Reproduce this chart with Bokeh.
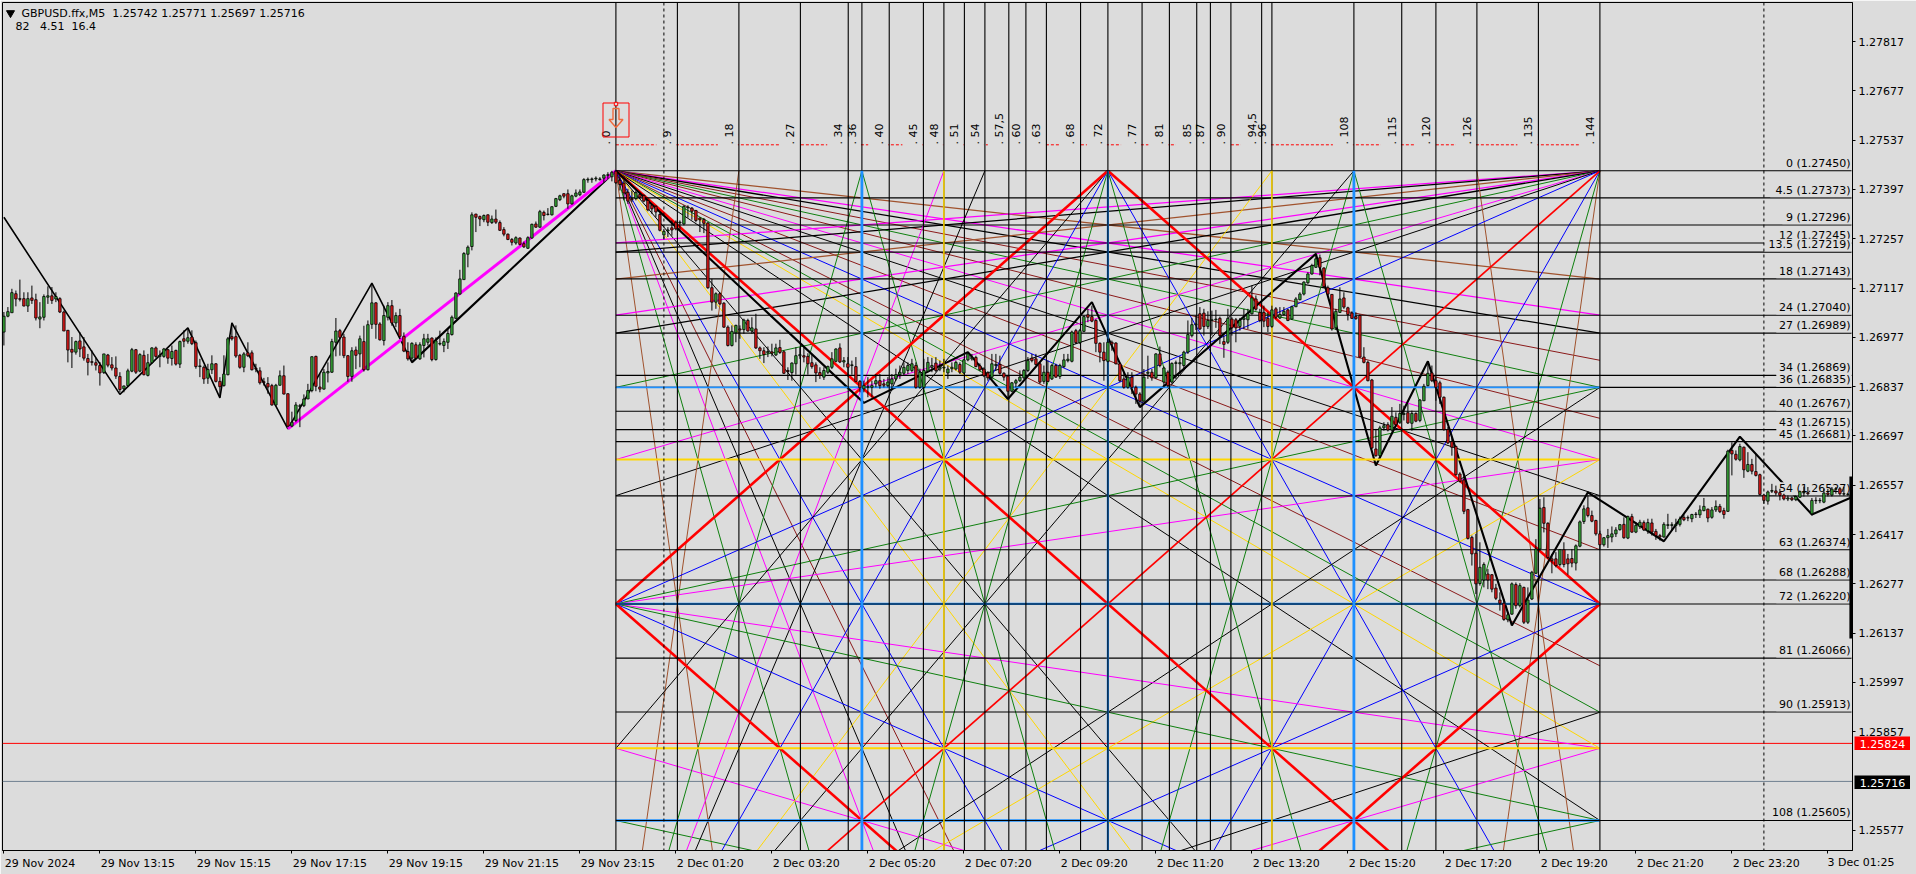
from math import pi
from bokeh.embed import file_html
from bokeh.resources import INLINE
from bokeh.plotting import figure
from bokeh.models import ColumnDataSource, FixedTicker, NumeralTickFormatter, Range1d, Label
from bokeh.core.properties import value

# ---------- DATA ----------
# candles, (open, high, low, close) in points above 1.25000
candles_a = [(1992,2049,1954,2037),(2037,2063,2034,2050),(2047,2115,2047,2104),(2101,2110,2065,2086),(2087,2141,2079,2085),(2087,2105,2065,2066),(2066,2105,2049,2087),(2089,2124,2072,2082),(2084,2101,2025,2032),(2029,2077,2003,2035),
(2034,2099,2025,2093),(2091,2122,2072,2095),(2095,2120,2072,2082),(2086,2105,2077,2093),(2087,2091,2046,2049),(2049,2053,1995,1995),(1997,1998,1906,1941),(1943,1978,1890,1935),(1935,1968,1928,1965),(1967,1992,1921,1944),
(1950,1978,1911,1918),(1917,1930,1869,1906),(1908,1940,1897,1906),(1905,1919,1883,1898),(1897,1907,1840,1876),(1877,1930,1873,1930),(1927,1930,1892,1898),(1899,1921,1883,1890),(1890,1923,1859,1867),(1866,1878,1821,1829),
(1831,1840,1821,1839),(1840,1888,1836,1882),(1881,1947,1878,1942),(1942,1944,1873,1878),(1881,1932,1878,1928),(1926,1940,1869,1871),(1869,1930,1866,1905),(1905,1949,1902,1947),(1947,1951,1919,1923),(1923,1940,1892,1926),
(1923,1947,1919,1944),(1942,1944,1902,1918),(1917,1954,1897,1937),(1940,1942,1897,1901),(1901,1968,1890,1965),(1973,1997,1949,1966),(1966,2001,1959,1976),(1978,1997,1955,1959),(1962,1968,1888,1894),(1894,1916,1864,1896),
(1892,1897,1845,1859),(1861,1902,1845,1886),(1885,1926,1873,1902),(1902,1904,1849,1852),(1852,1864,1807,1837),(1840,1926,1837,1873),(1871,1978,1869,1973),(1979,2018,1968,1973),(1979,2011,1919,1924),(1926,1930,1888,1892),
(1892,1935,1878,1930),(1933,1963,1921,1925),(1933,1940,1883,1885),(1889,1902,1878,1887),(1882,1892,1843,1848),(1851,1862,1840,1849),(1846,1864,1817,1836),(1840,1845,1783,1785),(1785,1845,1783,1841),(1841,1883,1840,1868),
(1868,1897,1815,1816),(1817,1818,1722,1725),(1725,1766,1722,1736),(1741,1793,1736,1785),(1781,1788,1722,1783),(1783,1815,1779,1802),(1802,1845,1802,1826),(1826,1923,1821,1922),(1923,1925,1824,1838),(1836,1873,1821,1830)]
candles_b = [(1830,1887,1829,1878),(1876,1906,1849,1880),(1878,1973,1876,1965),(1963,2032,1923,1995),(1996,2001,1925,1977),(1978,1987,1918,1925),(1925,1927,1851,1866),(1866,1949,1851,1939),(1941,1951,1887,1926),(1930,1982,1892,1973),
(1965,2010,1880,1885),(1885,2025,1883,2013),(2014,2129,2001,2075),(2075,2077,1973,2014),(2015,2020,1968,1970),(1968,2067,1954,2039),(2034,2077,2025,2067),(2067,2083,2010,2018),(2018,2048,2006,2039),(2039,2058,1973,1980),
(1980,1991,1935,1938),(1937,1963,1911,1916),(1918,1963,1904,1960),(1956,1963,1916,1918),(1916,1963,1913,1956),(1954,1987,1920,1973),(1963,1987,1954,1973),(1975,1977,1909,1914),(1914,1977,1911,1967),(1958,1996,1954,1960),
(1954,1974,1935,1965),(1963,2001,1944,1988),(1985,2039,1982,2034),(2031,2105,2029,2103),(2100,2169,2098,2143),(2141,2219,2141,2215),(2213,2238,2176,2233),(2235,2332,2224,2325),(2327,2328,2276,2318),(2320,2323,2293,2313),
(2311,2326,2304,2323),(2325,2326,2293,2304),(2303,2323,2299,2313),(2313,2340,2299,2304),(2303,2309,2279,2281),(2283,2290,2264,2270),(2270,2272,2253,2255),(2255,2259,2238,2247),(2245,2264,2240,2260),(2259,2261,2238,2241),
(2243,2249,2231,2234),(2230,2264,2228,2260),(2259,2300,2257,2298),(2299,2306,2288,2290),(2290,2339,2288,2334),(2332,2337,2309,2323),(2326,2344,2323,2327),(2325,2349,2323,2348),(2349,2373,2347,2371),(2368,2382,2364,2379),
(2385,2386,2372,2378),(2385,2397,2342,2356),(2356,2382,2354,2379),(2378,2397,2375,2387),(2382,2397,2378,2390),(2389,2429,2387,2425),(2424,2431,2416,2426),(2425,2431,2416,2427),(2427,2434,2420,2429),(2425,2432,2422,2427),
(2429,2440,2416,2438),(2437,2446,2427,2439),(2433,2450,2420,2446),(2449,2450,2413,2416)]
candles_c = [(2423,2437,2394,2411),(2415,2423,2366,2387),(2389,2399,2356,2364),(2371,2394,2361,2368),(2371,2394,2366,2388),(2383,2387,2371,2375),(2380,2383,2361,2364),(2366,2368,2335,2339),(2352,2356,2328,2342),(2349,2352,2318,2333),
(2326,2330,2278,2281),(2268,2285,2257,2278),(2279,2290,2262,2282),(2288,2309,2266,2282),(2304,2309,2281,2285),(2302,2309,2281,2304),(2299,2352,2295,2349),(2345,2352,2317,2347),(2344,2347,2311,2335),(2337,2339,2304,2309),
(2316,2318,2276,2311),(2312,2316,2273,2301),(2302,2304,2115,2118),(2118,2143,2053,2077),(2077,2105,2058,2101),(2101,2105,2070,2072),(2074,2077,2004,2006),(2006,2011,1951,1954),(1954,2011,1951,1994),(1990,2013,1963,2011),
(2001,2011,1973,1998),(1999,2030,1987,2026),(2025,2030,1993,1995),(1995,2034,1987,2004),(2001,2044,1944,1947),(1947,1951,1916,1939),(1939,1949,1904,1928),(1933,1951,1921,1937),(1936,1959,1923,1932),(1927,1959,1924,1947),
(1948,1970,1930,1934),(1936,1940,1873,1875),(1883,1892,1856,1880),(1877,1906,1854,1904),(1902,1949,1871,1925),(1925,1949,1916,1928),(1925,1949,1906,1921),(1923,1932,1871,1902),(1905,1930,1888,1894),(1899,1906,1850,1876),
(1877,1892,1859,1869),(1864,1892,1856,1883),(1878,1897,1873,1894),(1892,1935,1887,1916),(1909,1946,1906,1944),(1947,1960,1904,1907),(1907,1921,1892,1911),(1902,1921,1866,1892),(1897,1911,1871,1899),(1894,1921,1850,1852),
(1852,1856,1821,1834),(1831,1854,1821,1840),(1835,1864,1807,1837),(1835,1854,1807,1840),(1845,1873,1835,1854),(1854,1873,1831,1840),(1845,1859,1835,1841),(1840,1864,1835,1850),(1845,1873,1826,1859),(1859,1888,1854,1871),
(1871,1897,1859,1878),(1875,1906,1869,1892),(1883,1906,1873,1897),(1883,1916,1878,1902),(1897,1906,1831,1835),(1835,1888,1831,1878),(1835,1916,1831,1883)]
candles_d = [(1881,1921,1878,1906),(1892,1919,1878,1897),(1904,1921,1878,1883),(1887,1911,1881,1892),(1890,1916,1878,1892),(1876,1897,1859,1887),(1888,1906,1878,1892),(1887,1911,1883,1906),(1900,1906,1873,1878),(1876,1916,1873,1913),
(1913,1935,1909,1930),(1916,1930,1911,1920),(1920,1925,1892,1894),(1896,1903,1881,1885),(1887,1892,1864,1868),(1876,1881,1854,1862),(1864,1930,1859,1902),(1897,1930,1883,1900),(1900,1925,1871,1875),(1875,1878,1854,1864),
(1867,1868,1802,1824),(1824,1850,1821,1848),(1847,1859,1835,1854),(1854,1883,1850,1864),(1862,1887,1859,1883),(1883,1921,1878,1911),(1918,1930,1906,1911),(1916,1930,1897,1900),(1902,1906,1845,1850),(1852,1897,1845,1878),
(1878,1911,1850,1852),(1859,1902,1856,1897),(1897,1902,1862,1864),(1866,1902,1859,1897),(1894,1930,1890,1913),(1911,1930,1906,1915),(1909,1996,1906,1992),(1996,2001,1958,1962),(1962,2001,1958,1996),(1994,2039,1992,2036),
(2041,2058,2020,2034),(2036,2067,2020,2023),(2025,2029,1935,1960),(1960,1963,1906,1935),(1935,1963,1854,1911),(1909,1973,1906,1963),(1963,1968,1939,1958),(1961,1963,1900,1902),(1902,1906,1850,1854),(1859,1878,1831,1835),
(1835,1878,1831,1864),(1864,1878,1816,1835),(1835,1840,1788,1816),(1816,1821,1783,1796),(1796,1887,1793,1864),(1875,1925,1859,1878),(1878,1887,1854,1862),(1862,1932,1859,1930),(1930,1951,1892,1897),(1850,1894,1835,1890),
(1878,1883,1835,1840),(1850,1906,1845,1903),(1903,1911,1859,1905),(1902,1921,1873,1905),(1897,1939,1890,1935),(1935,2025,1930,1985),(1982,2032,1977,2013),(2013,2039,1998,2015),(2044,2063,1998,2001),(2046,2058,1982,2008),
(2008,2051,2001,2025),(2025,2053,1982,2027),(2027,2055,2004,2029),(2031,2036,1958,1982),(1965,1982,1919,1957),(1963,2058,1958,2031),(2029,2034,1982,2004),(2027,2032,1963,2004),(2008,2032,1996,2025)]
candles_e = [(2028,2058,2001,2032),(2027,2058,2001,2044),(2044,2124,2042,2089),(2086,2096,2053,2057),(2048,2058,2020,2025),(2048,2067,2006,2023),(2031,2048,1992,2008),(2008,2067,2004,2055),(2058,2063,2029,2034),(2032,2063,2029,2042),
(2042,2063,2039,2051),(2055,2058,2023,2025),(2029,2067,2027,2064),(2064,2091,2063,2086),(2084,2105,2082,2100),(2100,2136,2096,2134),(2132,2162,2129,2157),(2157,2186,2155,2181),(2176,2212,2174,2200),(2203,2212,2153,2176),
(2174,2176,2118,2121),(2118,2124,2096,2100),(2099,2100,1996,2001),(2004,2058,1998,2051),(2048,2119,2046,2086),(2089,2105,2058,2063),(2061,2064,2025,2042),(2046,2051,2029,2031),(2036,2048,2027,2030),(2039,2042,1919,1921),
(1921,1949,1903,1906),(1906,1911,1852,1854),(1856,1859,1660,1663),(1660,1717,1638,1641),(1641,1726,1636,1720),(1720,1736,1712,1726),(1729,1736,1710,1714),(1714,1779,1710,1753),(1750,1764,1724,1729),(1736,1788,1731,1761),
(1758,1783,1741,1761),(1763,1788,1731,1734),(1733,1769,1712,1761),(1761,1764,1736,1739),(1741,1802,1736,1799),(1797,1845,1796,1838),(1840,1902,1838,1875),(1876,1897,1850,1854),(1854,1864,1797,1835),(1848,1854,1788,1807),
(1807,1809,1712,1715),(1715,1722,1674,1677),(1681,1693,1641,1665),(1667,1670,1584,1587),(1589,1594,1565,1568),(1572,1584,1475,1483),(1488,1490,1403,1406),(1409,1414,1329,1362),(1364,1419,1248,1277),(1278,1395,1272,1324),
(1288,1338,1267,1332),(1305,1319,1262,1288),(1303,1305,1253,1262),(1265,1277,1231,1236),(1231,1253,1201,1222),(1222,1234,1172,1176),(1175,1196,1168,1189),(1191,1281,1189,1277),(1275,1281,1206,1215),(1215,1279,1210,1272),
(1267,1269,1163,1168),(1168,1267,1163,1231),(1234,1314,1231,1310),(1307,1404,1305,1376),(1376,1518,1371,1492),(1494,1523,1423,1449),(1449,1452,1348,1352)]
candles_f = [(1348,1362,1307,1343),(1348,1367,1324,1329),(1332,1376,1326,1374),(1374,1395,1324,1332),(1348,1362,1303,1334),(1349,1376,1324,1336),(1336,1389,1315,1385),(1384,1457,1381,1453),(1454,1500,1447,1490),(1493,1528,1466,1471),
(1471,1485,1452,1455),(1457,1459,1414,1419),(1419,1428,1374,1388),(1388,1410,1383,1408),(1408,1433,1379,1414),(1410,1440,1395,1419),(1419,1438,1410,1430),(1431,1447,1428,1445),(1446,1466,1405,1408),(1407,1471,1404,1468),
(1468,1476,1422,1424),(1424,1452,1421,1443),(1440,1459,1433,1452),(1451,1457,1427,1430),(1428,1462,1419,1451),(1450,1462,1414,1424),(1426,1433,1402,1414),(1414,1419,1400,1410),(1410,1452,1408,1446),(1443,1476,1433,1445),
(1443,1452,1428,1445),(1443,1462,1424,1446),(1446,1468,1440,1461),(1466,1474,1455,1459),(1464,1471,1455,1465),(1462,1476,1452,1474),(1474,1481,1464,1475),(1473,1500,1464,1487),(1485,1521,1483,1497),(1489,1491,1452,1464),
(1466,1495,1462,1487),(1487,1514,1481,1497),(1497,1504,1478,1482),(1485,1493,1462,1474),(1483,1658,1481,1654),(1656,1679,1585,1646),(1645,1656,1627,1631),(1629,1675,1625,1667),(1665,1667,1578,1601),(1597,1651,1594,1616),
(1616,1632,1588,1597),(1596,1646,1582,1585),(1587,1590,1528,1531),(1529,1533,1504,1514),(1512,1542,1502,1538),(1540,1561,1535,1542),(1541,1556,1528,1535),(1536,1547,1514,1528),(1529,1533,1514,1518),(1518,1528,1512,1521),
(1521,1525,1512,1516),(1516,1528,1512,1525),(1523,1542,1521,1539),(1535,1553,1525,1537),(1536,1552,1528,1533),(1476,1521,1471,1514),(1513,1523,1504,1514),(1513,1521,1506,1514),(1509,1547,1506,1535),(1535,1547,1525,1531),
(1529,1552,1525,1546),(1546,1552,1533,1547),(1547,1552,1528,1533),(1532,1552,1527,1533),(1531,1535,1527,1532),(1531,1582,1122,1531)]

zigzag_bars = [0,29,46,54,57,71,92,102,153,215,241,251,272,284,328,343,356,377,396,415,434,452,462]
zigzag_pts = [2318,1815,2004,1805,2018,1717,2131,1906,2450,1791,1935,1802,2077,1779,2214,1613,1909,1159,1537,1398,1695,1474,1523]
trend_bars = [71,153]
trend_pts = [1717,2450]

time_labels = ["29 Nov 2024","29 Nov 13:15","29 Nov 15:15","29 Nov 17:15","29 Nov 19:15","29 Nov 21:15","29 Nov 23:15",
               "2 Dec 01:20","2 Dec 03:20","2 Dec 05:20","2 Dec 07:20","2 Dec 09:20","2 Dec 11:20","2 Dec 13:20",
               "2 Dec 15:20","2 Dec 17:20","2 Dec 19:20","2 Dec 21:20","2 Dec 23:20","3 Dec 01:25"]
price_ticks = [1.27817,1.27677,1.27537,1.27397,1.27257,1.27117,1.26977,1.26837,1.26697,1.26557,1.26417,1.26277,1.26137,1.25997,1.25857,1.25577]
level_names = ["0","4.5","9","12","13.5","18","24","27","34","36","40","43","45","54","63","68","72","81","90","108"]
level_prices = [1.27450,1.27373,1.27296,1.27245,1.27219,1.27143,1.27040,1.26989,1.26869,1.26835,1.26767,1.26715,1.26681,1.26527,1.26374,1.26288,1.26220,1.26066,1.25913,1.25605]
time_names = ["0","9","18","27","34","36","40","45","48","51","54","57,5","60","63","68","72","77","81","85","87","90","94,5","96","108","115","120","126","135","144"]
sell_price = 1.25824
bid_price = 1.25716
separator_bars = [165, 440]

BROWN, MAG, BLK, DRED, GRN, BLU, YEL, RED = "#A0522D", "#FF00FF", "#000000", "#8B1A1A", "#0F800F", "#0000FF", "#FFD700", "#FF0000"
fan_all = [(1/8,BROWN),(1/6,MAG),(3/16,BLK),(7/32,DRED),(1/4,GRN),(2/7,DRED),(1/3,MAG),(3/8,BLK),(7/16,DRED),(1/2,BLU),(4/7,DRED),(5/8,GRN),(2/3,YEL),(3/4,BLK)]
fan_steep_top_left = [(1/8,BROWN),(1/4,GRN),(1/3,MAG),(3/8,BLK),(7/16,DRED),(1/2,BLU),(2/3,YEL),(3/4,BLK)]
fan_right = [(1/12,MAG),(3/32,BLK),(1/8,BROWN),(1/6,MAG),(3/16,BLK),(1/4,GRN),(1/3,MAG),(3/8,BLK)]
fan_low_left = [(1/4,GRN),(1/3,MAG),(3/8,BLK),(1/2,BLU),(2/3,YEL),(3/4,BLK)]
fan_low_right = [(1/4,GRN),(1/3,MAG)]
fan_steep_low = [(1/8,BROWN),(1/4,GRN),(1/3,MAG),(3/8,BLK),(1/2,BLU),(2/3,YEL),(3/4,BLK)]
fan_steep_side = [(1/8,BROWN),(1/4,GRN),(1/2,BLU)]
fan_mid = [(1/6,MAG),(1/4,GRN),(1/2,BLU)]

# ---------- SCALES ----------
BASE = 1.25
BG = "#DCDCDC"
BAR0_PX, BAR_PX = 3.4, 4.0
P_PER_PX = 1 / 35214.0
def px_x(px): return (px - BAR0_PX) / BAR_PX
def px_y(py): return 1.2745 - (py - 170.3) * P_PER_PX
def gx(v): return 153 + v * 246 / 144
def gy(l): return 1.2745 - l * 0.00017083

rows = candles_a + candles_b + candles_c + candles_d + candles_e + candles_f
opens = [BASE + r[0] / 1e5 for r in rows]
highs = [BASE + r[1] / 1e5 for r in rows]
lows = [BASE + r[2] / 1e5 for r in rows]
closes = [BASE + r[3] / 1e5 for r in rows]
bars = list(range(len(rows)))

p = figure(width=1916, height=874, output_backend="svg", toolbar_location=None,
           x_range=Range1d(px_x(2), px_x(1852)), y_range=Range1d(px_y(850), px_y(2)),
           y_axis_location="right", min_border_left=2, min_border_top=2,
           min_border_right=64, min_border_bottom=24)
p.styles = {"position": "absolute", "left": "0px", "top": "0px"}
p.background_fill_color = BG
p.border_fill_color = BG
p.outline_line_color = "black"
p.grid.visible = False
for ax in (p.xaxis[0], p.yaxis[0]):
    ax.axis_line_color = "black"
    ax.axis_line_width = 1
    ax.major_tick_in = 0
    ax.major_tick_out = 3
    ax.major_label_text_font = "DejaVu Sans"
    ax.major_label_text_font_size = "11px"
    ax.major_label_text_color = "black"
    ax.major_label_standoff = 3
p.yaxis[0].major_tick_line_color = "black"
p.yaxis[0].minor_tick_line_color = None
p.yaxis[0].ticker = FixedTicker(ticks=price_ticks)
p.yaxis[0].formatter = NumeralTickFormatter(format="0.00000")

# The date texts start at each tick, so their (centred) labels sit half a text further on;
# the true ticks are the axis's minor ticks.
def half_bars(s):
    w = 70.4 if s.endswith("2024") else (74.1 if s.startswith("29") else 66.5)
    return (w / 2 + 1) / BAR_PX
shifted = {24 * i + half_bars(s): s for i, s in enumerate(time_labels[:-1])}
xa = p.xaxis[0]
xa.ticker = FixedTicker(ticks=list(shifted), minor_ticks=[24 * i for i in range(len(time_labels))])
xa.major_label_overrides = shifted
xa.major_tick_line_color = None
xa.minor_tick_line_color = "black"
xa.minor_tick_in = 0
xa.minor_tick_out = 3

# ---------- price lines ----------
x_l, x_r = px_x(2), px_x(1852)
p.segment([x_l], [sell_price], [x_r], [sell_price], line_color="#FF0000", line_width=1)
p.segment([x_l], [bid_price], [x_r], [bid_price], line_color="#708090", line_width=1)

# ---------- Gann fans ----------
def clip(ox, oy, tx, ty):
    t = 1.0
    if tx < 0: t = min(t, (0 - ox) / (tx - ox))
    if tx > 144: t = min(t, (144 - ox) / (tx - ox))
    return ox + (tx - ox) * t, oy + (ty - oy) * t

fan = []
def add(ox, oy, tx, ty, color, w=1.0):
    cx, cy = clip(ox, oy, tx, ty)
    fan.append((gx(ox), gy(oy), gx(cx), gy(cy), color, w))
def wid(f): return 1.25 if f <= 3 / 16 else 1.0

for f, c in fan_all:
    add(0, 0, 144, 144 * f, c, wid(f))
for f, c in fan_steep_top_left:
    add(0, 0, 144 * f, 144, c)
for f, c in fan_right:
    add(144, 0, 0, 144 * f, c, wid(f))
for f, c in fan_steep_side:
    add(144, 0, 144 - 144 * f, 144, c)
    add(144, 144, 144 - 144 * f, 0, c)
for f, c in fan_low_left:
    add(0, 144, 144, 144 - 144 * f, c)
for f, c in fan_low_right:
    add(144, 144, 0, 144 - 144 * f, c)
for f, c in fan_steep_low:
    add(0, 144, 144 * f, 0, c)
for f, c in fan_mid:
    add(0, 72, 144, 72 - 144 * f, c)
    add(0, 72, 144, 72 + 144 * f, c)
for d in (-1, 1):
    add(72, 0, 72 + d * 36, 144, GRN)
    add(72, 144, 72 + d * 36, 0, GRN)
add(72, 0, 0, 96, BLK)
for a in [(0,0,144,144,RED,2.6),(0,72,72,0,RED,2.6),(72,0,144,72,RED,2.6),(0,72,72,144,RED,2.6),(144,72,72,144,RED,2.6),(144,0,0,144,RED,1.7)]:
    add(*a)
fs = ColumnDataSource(dict(x0=[r[0] for r in fan], y0=[r[1] for r in fan], x1=[r[2] for r in fan],
                           y1=[r[3] for r in fan], c=[r[4] for r in fan], w=[r[5] for r in fan]))
p.segment("x0", "y0", "x1", "y1", source=fs, line_color="c", line_width="w")

# ---------- zigzag and trend ----------
zy = [BASE + v / 1e5 for v in zigzag_pts]
p.line(zigzag_bars[:8], zy[:8], line_color="black", line_width=1.6)
p.line(zigzag_bars[7:], zy[7:], line_color="black", line_width=2.1)
p.line(trend_bars, [BASE + v / 1e5 for v in trend_pts], line_color="#FF00FF", line_width=3)

# ---------- horizontal levels ----------
for l, c, w in [(72, "#1E90FF", 2.2), (108, "#1E90FF", 2.4)]:
    p.segment([gx(0)], [gy(l)], [gx(144)], [gy(l)], line_color=c, line_width=w)
p.segment([gx(0)] * len(level_prices), level_prices, [px_x(1851)] * len(level_prices), level_prices,
          line_color="black", line_width=1.1)
for l, c, w in [(36, "#1E90FF", 1.8), (48, "#FFD700", 2), (96, "#FFD700", 2)]:
    p.segment([gx(0)], [gy(l)], [gx(144)], [gy(l)], line_color=c, line_width=w)

# ---------- level labels ----------
font = value("DejaVu Sans")
for n, pr in zip(level_names, level_prices):
    s = f"{n} ({pr:.5f})"
    lw = 6.1 * len(s) + 2
    p.quad(left=[px_x(1851 - lw)], right=[px_x(1851)],
           top=[pr + 13.5 * P_PER_PX], bottom=[pr + 0.7 * P_PER_PX], fill_color=BG, line_color=None)
    p.text([px_x(1850)], [pr], text=[s], text_font=font, text_font_size="11px", text_color="black",
           text_align="right", text_baseline="middle", y_offset=-7.5)

# ---------- top time labels ----------
p.line([gx(0), gx(144) - 1], [px_y(144.3)] * 2, line_color="#FF0000", line_width=1, line_dash="3 2")
for s in time_names:
    v = float(s.replace(",", "."))
    x = BAR0_PX + gx(v) * BAR_PX
    p.quad(left=[px_x(x - 21)], right=[px_x(x - 1)], top=[px_y(138)], bottom=[px_y(147)],
           fill_color=BG, line_color=None)
for s in time_names:
    v = float(s.replace(",", "."))
    x = BAR0_PX + gx(v) * BAR_PX
    p.text([px_x(x - 9.6)], [px_y(144)], text=[". " + s], text_font=font, text_font_size="11px", text_color="black",
           angle=pi / 2, text_align="left", text_baseline="middle")

# ---------- vertical levels ----------
v_vals = [float(s.replace(",", ".")) for s in time_names]
gxs = [gx(v) for v in v_vals]
p.segment([gx(72)], [gy(0)], [gx(72)], [px_y(850)], line_color="#1E90FF", line_width=2.2)
p.segment(gxs, [px_y(2)] * len(gxs), gxs, [px_y(850)] * len(gxs), line_color="black", line_width=1.1)
for v, c, w in [(36, "#1E90FF", 2.8), (108, "#1E90FF", 2.8), (48, "#FFD700", 1.5), (96, "#FFD700", 1.5)]:
    p.segment([gx(v)], [gy(0)], [gx(v)], [px_y(850)], line_color=c, line_width=w)

# ---------- separators ----------
p.segment(separator_bars, [px_y(2)] * 2, separator_bars, [px_y(850)] * 2, line_color="black", line_width=1, line_dash="3 3")

# ---------- candles ----------
last = len(rows) - 1
p.segment(bars[:last], highs[:last], bars[:last], lows[:last], line_color="black", line_width=1)
p.segment([last - 0.25], [highs[last]], [last - 0.25], [lows[last]], line_color="black", line_width=3)
up = [i for i in bars[:last] if closes[i] >= opens[i]]
dn = [i for i in bars[:last] if closes[i] < opens[i]]
p.vbar([i for i in up], 0.6, [opens[i] for i in up], [closes[i] for i in up], fill_color="#38A838", line_color="black", line_width=0.8)
p.vbar([i for i in dn], 0.6, [closes[i] for i in dn], [opens[i] for i in dn], fill_color="#E01818", line_color="black", line_width=0.8)

# ---------- sell arrow object ----------
ax0, ax1 = px_x(602.5), px_x(628.5)
p.quad(left=[ax0], right=[ax1], top=[px_y(102.5)], bottom=[px_y(136.5)], fill_color=None, line_color="#FF0000", line_width=1)
p.patch([px_x(612.5), px_x(618.5), px_x(618.5), px_x(622.5), px_x(615.5), px_x(608.5), px_x(612.5), px_x(612.5)],
        [px_y(108), px_y(108), px_y(119), px_y(119), px_y(127), px_y(119), px_y(119), px_y(108)],
        fill_color=None, line_color="#F06A3C", line_width=1.4)
p.quad(left=[px_x(613.8)], right=[px_x(617.2)], top=[px_y(101.8)], bottom=[px_y(105.2)], fill_color=BG, line_color="#FF0000", line_width=1)

# ---------- header ----------
NB = "\u00a0"
p.scatter([px_x(10)], [px_y(12.5)], marker="inverted_triangle", size=8, fill_color="black", line_color="black")
p.add_layout(Label(x=px_x(21), y=px_y(12.7), text=f"GBPUSD.ffx,M5{NB}{NB}1.25742 1.25771 1.25697 1.25716", text_font="DejaVu Sans",
                   text_font_size="11px", text_color="black", text_baseline="middle"))
p.add_layout(Label(x=px_x(15), y=px_y(25.7), text=f"82{NB}{NB}{NB}4.51{NB}{NB}16.4", text_font="DejaVu Sans",
                   text_font_size="11px", text_color="black", text_baseline="middle"))

# ---------- small panels past the frame: the two price tags and the last date ----------
def chip(text, left, top, w, h, bg, fg, align="center"):
    f = figure(width=w, height=h, output_backend="svg", toolbar_location=None, x_axis_type=None, y_axis_type=None,
               x_range=Range1d(0, 1), y_range=Range1d(0, 1), min_border=0, outline_line_color=None)
    f.background_fill_color = bg
    f.border_fill_color = bg
    f.styles = {"position": "absolute", "left": f"{left}px", "top": f"{top}px"}
    f.text([0.5 if align == "center" else 0.0], [0.5], text=[text], text_font=value("DejaVu Sans"), text_font_size="11px",
           text_color=fg, text_align=align, text_baseline="middle")
    return f

tag_sell = chip(f"{sell_price:.5f}", 1854, 736, 56, 14, "#FF0000", "#FFFFFF")
tag_bid = chip(f"{bid_price:.5f}", 1854, 775, 56, 14, "#000000", "#FFFFFF")
last_date = chip(time_labels[-1], 1827, 854, 72, 16, BG, "#000000", align="left")

open("out.html", "w").write(file_html([p, tag_sell, tag_bid, last_date], INLINE))
